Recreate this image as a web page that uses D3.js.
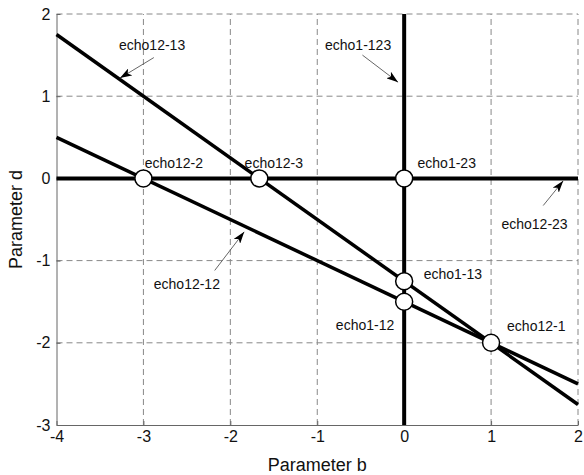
<!DOCTYPE html>
<html>
<head>
<meta charset="utf-8">
<script src="https://cdn.jsdelivr.net/npm/d3@7"></script>
<style>
  body { margin: 0; background: #fff; }
  text { font-family: "Liberation Sans", Arial, sans-serif; fill: #111; }
</style>
</head>
<body>
<script>
// axis ticks
var bTicks = [-4, -3, -2, -1, 0, 1, 2];
var dTicks = [-3, -2, -1, 0, 1, 2];

// lines: d = k*b + c (echo12-13, echo12-12), plus d=0 and b=0
var slopeLines = [
  {name: 'echo12-13', k: -0.75, c: -1.25},
  {name: 'echo12-12', k: -0.5, c: -1.5}
];
var hLineD = [0];      // echo12-23
var vLineB = [0];      // echo1-123

// intersection points
var ptNames = ['echo12-2', 'echo12-3', 'echo1-23', 'echo1-13', 'echo1-12', 'echo12-1'];
var ptB = [-3, -5/3, 0, 0, 0, 1];
var ptD = [0, 0, 0, -1.25, -1.5, -2];

// labels (data coordinates) and arrows
var labNames = ['echo12-13', 'echo1-123', 'echo12-2', 'echo12-3', 'echo1-23', 'echo12-23', 'echo1-13', 'echo1-12', 'echo12-12', 'echo12-1'];
var labB = [-2.9, -0.53, -2.65, -1.5, 0.49, 1.5, 0.56, -0.45, -2.5, 1.52];
var labD = [1.62, 1.62, 0.19, 0.19, 0.19, -0.56, -1.16, -1.78, -1.29, -1.8];
var arrows = [
  {from: [-2.88, 1.47], to: [-3.27, 1.22]},
  {from: [-0.48, 1.5], to: [-0.07, 1.17]},
  {from: [1.6, -0.33], to: [1.83, -0.03]},
  {from: [-2.18, -1.12], to: [-1.84, -0.65]}
];

var W = 584, H = 475;
var m = {left: 56.5, right: 6, top: 14, bottom: 50};

var svg = d3.select('body').append('svg').attr('width', W).attr('height', H);

var x = d3.scaleLinear().domain([-4, 2]).range([m.left, W - m.right]);
var y = d3.scaleLinear().domain([-3, 2]).range([H - m.bottom, m.top]);

var defs = svg.append('defs');
defs.append('marker').attr('id', 'ah').attr('viewBox', '0 0 12 8')
  .attr('refX', 12).attr('refY', 4).attr('markerWidth', 12).attr('markerHeight', 8)
  .attr('markerUnits', 'userSpaceOnUse').attr('orient', 'auto')
  .append('path').attr('d', 'M0,0 L12,4 L0,8 L3,4 Z').attr('fill', '#000');

// grid
var grid = svg.append('g');
grid.selectAll('.gx').data(bTicks.slice(1)).enter().append('line')
  .attr('x1', function (d) { return x(d); }).attr('x2', function (d) { return x(d); })
  .attr('y1', y(-3)).attr('y2', y(2))
  .attr('stroke', '#888').attr('stroke-width', 1).attr('stroke-dasharray', '6,4');
grid.selectAll('.gy').data(dTicks.slice(1)).enter().append('line')
  .attr('y1', function (d) { return y(d); }).attr('y2', function (d) { return y(d); })
  .attr('x1', x(-4)).attr('x2', x(2))
  .attr('stroke', '#888').attr('stroke-width', 1).attr('stroke-dasharray', '6,4');

// axes
var fmt = function (d) { return String(d); };
var xAxis = svg.append('g').attr('transform', 'translate(0,' + y(-3) + ')')
  .call(d3.axisBottom(x).tickValues(bTicks).tickSizeInner(-4).tickSizeOuter(0).tickPadding(8).tickFormat(fmt));
var yAxis = svg.append('g').attr('transform', 'translate(' + x(-4) + ',0)')
  .call(d3.axisLeft(y).tickValues(dTicks).tickSizeInner(-4).tickSizeOuter(0).tickPadding(6).tickFormat(fmt));
[xAxis, yAxis].forEach(function (a) {
  a.select('.domain').attr('stroke', '#666');
  a.selectAll('.tick line').attr('stroke', '#666');
  a.selectAll('text').style('font-size', '16px').style('font-family', '"Liberation Sans", Arial, sans-serif').attr('fill', '#111');
});
xAxis.selectAll('text').attr('dy', '0.55em');

// main lines
var lineGen = d3.line().x(function (p) { return x(p[0]); }).y(function (p) { return y(p[1]); });
svg.selectAll('.sl').data(slopeLines).enter().append('path')
  .attr('d', function (l) { return lineGen([[-4, l.k * -4 + l.c], [2, l.k * 2 + l.c]]); })
  .attr('stroke', '#000').attr('stroke-width', 3.5).attr('fill', 'none');
svg.selectAll('.hl').data(hLineD).enter().append('line')
  .attr('x1', x(-4)).attr('x2', x(2))
  .attr('y1', function (d) { return y(d); }).attr('y2', function (d) { return y(d); })
  .attr('stroke', '#000').attr('stroke-width', 4);
svg.selectAll('.vl').data(vLineB).enter().append('line')
  .attr('x1', function (d) { return x(d); }).attr('x2', function (d) { return x(d); })
  .attr('y1', y(-3)).attr('y2', y(2))
  .attr('stroke', '#000').attr('stroke-width', 4);

// arrows
svg.selectAll('.ar').data(arrows).enter().append('line')
  .attr('x1', function (a) { return x(a.from[0]); }).attr('y1', function (a) { return y(a.from[1]); })
  .attr('x2', function (a) { return x(a.to[0]); }).attr('y2', function (a) { return y(a.to[1]); })
  .attr('stroke', '#555').attr('stroke-width', 0.9).attr('marker-end', 'url(#ah)');

// points
svg.selectAll('.pt').data(ptNames).enter().append('circle')
  .attr('cx', function (d, i) { return x(ptB[i]); })
  .attr('cy', function (d, i) { return y(ptD[i]); })
  .attr('r', 8.5).attr('fill', '#fff').attr('stroke', '#000').attr('stroke-width', 1.5);

// labels
svg.selectAll('.lab').data(labNames).enter().append('text')
  .attr('x', function (d, i) { return x(labB[i]); })
  .attr('y', function (d, i) { return y(labD[i]); })
  .attr('text-anchor', 'middle').attr('dy', '0.35em')
  .style('font-size', '14px')
  .text(function (d) { return d; });

// axis titles
svg.append('text').attr('x', (x(-4) + x(2)) / 2).attr('y', 471)
  .attr('text-anchor', 'middle').style('font-size', '18px').text('Parameter b');
svg.append('text').attr('transform', 'translate(22,' + y(-0.5) + ') rotate(-90)')
  .attr('text-anchor', 'middle').style('font-size', '18px').text('Parameter d');
</script>
</body>
</html>
